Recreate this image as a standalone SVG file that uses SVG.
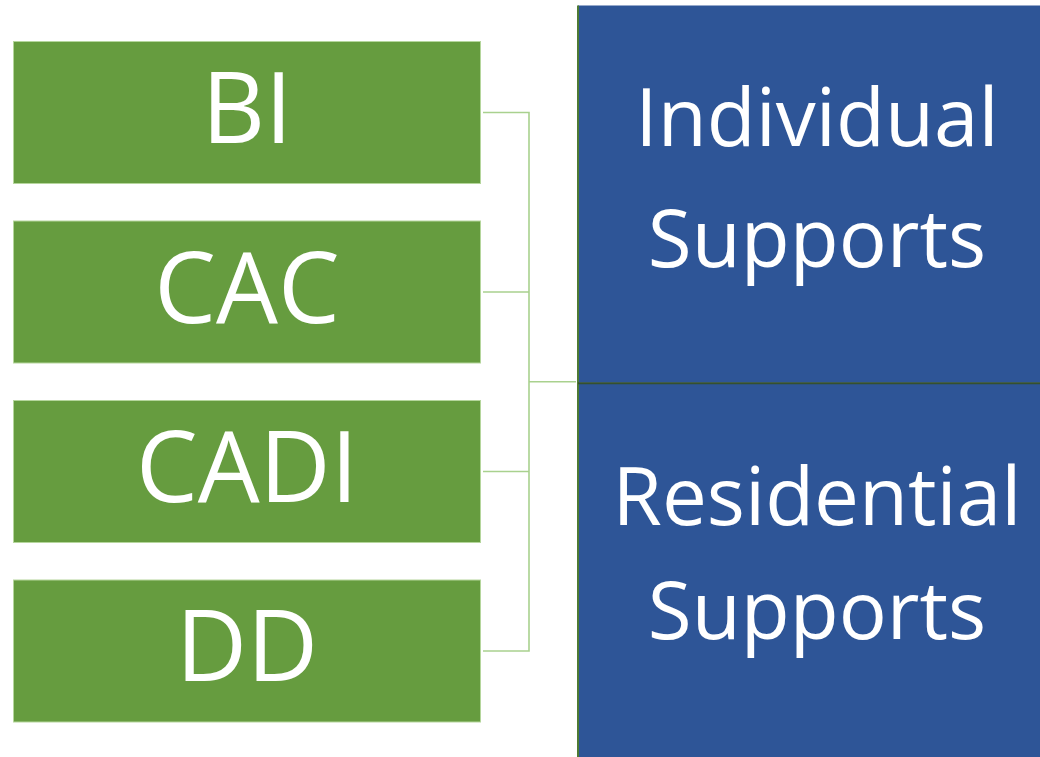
<svg xmlns="http://www.w3.org/2000/svg" width="1040" height="757" viewBox="0 0 1040 757">
  <style>
    .g { fill: #669c3f; stroke: #b5d69c; stroke-width: 1; }
    .b { fill: #2e5597; }
    .gt { font-family: "Open Sans", "Liberation Sans", sans-serif; font-size: 98px; fill: #ffffff; text-anchor: middle; }
    .bt { font-family: "Open Sans", "Liberation Sans", sans-serif; font-size: 80px; fill: #ffffff; text-anchor: middle; }
    .c { fill: none; stroke: #a9d18e; stroke-width: 1.6; }
  </style>
  <rect width="1040" height="757" fill="#ffffff"/>
  <g id="connectors">
    <path class="c" d="M483 112.5 H529 V651 H483 M483 292 H529 M483 471.5 H529 M529 381.8 H576"/>
  </g>
  <g id="node-bi">
    <rect class="g" x="13.5" y="41.5" width="467" height="142"/>
    <text class="gt" x="247" y="143">BI</text>
  </g>
  <g id="node-cac">
    <rect class="g" x="13.5" y="221" width="467" height="142"/>
    <text class="gt" x="247" y="323">CAC</text>
  </g>
  <g id="node-cadi">
    <rect class="g" x="13.5" y="400.5" width="467" height="142"/>
    <text class="gt" x="247" y="502">CADI</text>
  </g>
  <g id="node-dd">
    <rect class="g" x="13.5" y="580" width="467" height="142"/>
    <text class="gt" x="247" y="681">DD</text>
  </g>
  <g id="node-individual">
    <rect class="b" x="578" y="5.5" width="470" height="377"/>
    <text class="bt" x="817" y="146">Individual</text>
    <text class="bt" x="817" y="267">Supports</text>
  </g>
  <g id="node-residential">
    <rect class="b" x="578" y="382.5" width="470" height="380"/>
    <text class="bt" x="817" y="525">Residential</text>
    <text class="bt" x="817" y="639">Supports</text>
  </g>
  <line x1="578" y1="5.5" x2="578" y2="757" stroke="#4e7a33" stroke-width="2"/>
  <line x1="578" y1="383.3" x2="1040" y2="383.3" stroke="#35502e" stroke-width="2"/>
</svg>
